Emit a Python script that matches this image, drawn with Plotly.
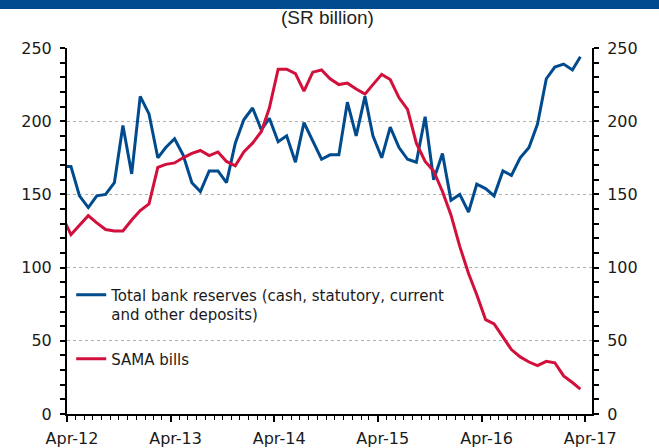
import pandas as pd
import plotly.graph_objects as go

# Monthly observations, Mar-2012 .. Mar-2017 (plotted mid-month)
months = pd.date_range("2012-03-01", "2017-03-01", freq="MS") + pd.Timedelta(days=14)

total_bank_reserves = [
    169,
    169, 149, 141, 149, 150, 158, 197, 164, 217, 205, 175, 182,
    188, 177, 158, 152, 166, 166, 158, 185, 201, 209, 194, 202,
    186, 190, 172, 199, 186, 174, 177, 177, 213, 190, 217, 190,
    175, 196, 182, 174, 172, 203, 160, 178, 146, 150, 138, 157,
    154, 149, 166, 163, 175, 182, 198, 229, 237, 239, 235, 244,
]

sama_bills = [
    135,
    122.5, 129, 135.5, 130.5, 126, 125, 125, 132.5, 139, 143.5, 168.5, 170.5,
    171.5, 175, 178, 180, 176.5, 179, 172.5, 169.5, 179, 185, 193, 209,
    235.5, 235.5, 232.5, 220.5, 233.5, 235, 229, 225, 226, 222, 218.5, 225,
    232, 228.5, 216, 208, 185, 172.5, 166, 152, 136, 114.5, 96, 81.5,
    64.5, 61.5, 53, 44, 39, 35.5, 33, 36, 35, 26, 21.5, 17,
]

series_names = [
    "Total bank reserves (cash, statutory, current<br>and other deposits)",
    "SAMA bills",
]
subtitle = "(SR billion)"
y_ticks = [0, 50, 100, 150, 200, 250]

BLUE = "#004B8D"
RED = "#D2103C"
TXT = "#1a1a1a"
FONT = "DejaVu Sans"

fig = go.Figure()
fig.add_trace(go.Scatter(x=months, y=total_bank_reserves, name=series_names[0],
                         mode="lines", line=dict(color=BLUE, width=3), yaxis="y",
                         legendgroup="a"))
fig.add_trace(go.Scatter(x=months, y=sama_bills, name=series_names[1],
                         mode="lines", line=dict(color=RED, width=3), yaxis="y2",
                         legendgroup="b"))

yax = dict(range=[0, 250], tickvals=y_ticks, ticks="outside", ticklen=5, tickwidth=1.5,
           tickcolor="#000", showline=True, linecolor="#000", linewidth=2,
           zeroline=False, tickfont=dict(family=FONT, size=16, color=TXT),
           ticklabelstandoff=5, automargin=False,
           minor=dict(dtick=10, ticks="outside", ticklen=5, tickcolor="#000", tickwidth=1.5,
                      showgrid=False))

fig.update_layout(
    width=659, height=448,
    margin=dict(l=67, r=67, t=48, b=34),
    plot_bgcolor="white", paper_bgcolor="white",
    showlegend=True,
    legend=dict(x=0.008, y=0.37, xanchor="left", yanchor="top",
                bgcolor="rgba(0,0,0,0)", font=dict(family=FONT, size=15, color=TXT),
                valign="top", tracegroupgap=22, itemwidth=30),
    xaxis=dict(type="date", range=["2012-04-01", "2017-04-25"],
               tick0="2012-04-01", dtick="M12", tickformat="%b-%y",
               ticks="outside", ticklen=6, tickwidth=1.5, tickcolor="#000",
               showline=True, linecolor="#000", linewidth=2, showgrid=False,
               zeroline=False, tickfont=dict(family=FONT, size=16, color=TXT),
               ticklabelstandoff=3, ticklabelshift=5, automargin=False,
               minor=dict(dtick="M1", tick0="2012-04-01", ticks="outside", ticklen=4,
                          tickcolor="#000", tickwidth=1, showgrid=False)),
    yaxis=dict(**yax, side="left", showgrid=True, gridcolor="#b0b0b0",
               griddash="dot", gridwidth=1),
    yaxis2=dict(**yax, side="right", overlaying="y", showgrid=False),
    shapes=[dict(type="rect", xref="paper", yref="paper",
                 x0=-0.2, x1=1.2, y0=1 + 39 / 366, y1=1.2,
                 fillcolor=BLUE, line=dict(width=0), layer="above")],
    annotations=[dict(text=subtitle, xref="paper", yref="paper", x=0.497, y=1 + 30 / 366,
                      xanchor="center", yanchor="middle", showarrow=False,
                      font=dict(family="Liberation Sans", size=19, color="#222"))],
)

fig.write_html("out.html", config={"displayModeBar": False},
               post_script="document.body.style.margin='0';document.body.style.overflow='hidden';")
